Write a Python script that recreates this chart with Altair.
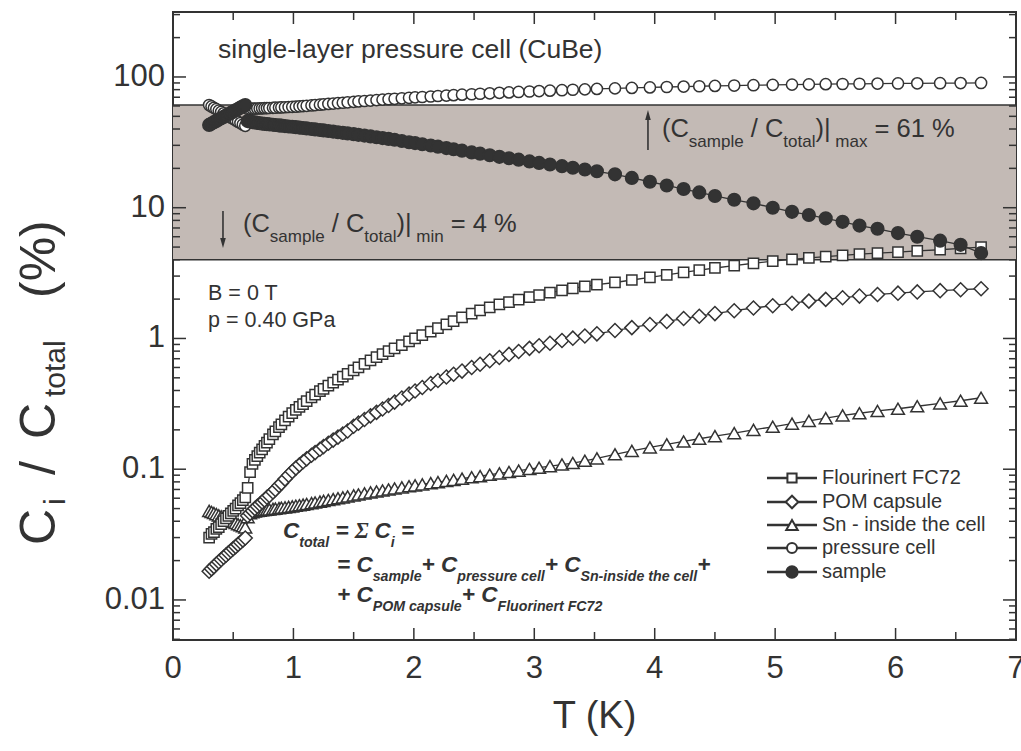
import altair as alt
import pandas as pd

INK = "#333333"
BAND_FILL = "#c3bab5"
FONT = "Liberation Sans"

# ---------------- data ----------------
T_LOW = [0.30, 0.32, 0.34, 0.36, 0.38, 0.40, 0.42, 0.44, 0.46, 0.48,
         0.50, 0.52, 0.54, 0.56, 0.58, 0.60]
T_MAIN = [0.62, 0.64, 0.66, 0.68, 0.70, 0.72, 0.74, 0.76, 0.78, 0.80,
          0.83, 0.85, 0.88, 0.90, 0.93, 0.96, 0.99, 1.02, 1.05, 1.08,
          1.11, 1.15, 1.18, 1.22, 1.25, 1.29, 1.33, 1.37, 1.41, 1.45,
          1.50, 1.54, 1.59, 1.64, 1.69, 1.74, 1.79, 1.84, 1.90, 1.96,
          2.01, 2.07, 2.14, 2.20, 2.27, 2.33, 2.40, 2.48, 2.55, 2.63,
          2.71, 2.79, 2.87, 2.96, 3.04, 3.13, 3.23, 3.32, 3.42, 3.52,
          3.67, 3.81, 3.96, 4.10, 4.24, 4.37, 4.50, 4.66, 4.82, 4.98,
          5.14, 5.28, 5.42, 5.56, 5.70, 5.85, 6.02, 6.18, 6.37, 6.54,
          6.71]

SAMPLE_LOW = [43.0, 44.0, 45.1, 46.1, 47.2, 48.3, 49.5, 50.6, 51.8, 53.1,
              54.3, 55.6, 56.9, 58.3, 59.6, 61.0]
SAMPLE_MAIN = [46.0, 45.6, 45.2, 44.9, 44.6, 44.3, 44.0, 43.8, 43.6, 43.4,
               43.1, 42.9, 42.6, 42.4, 42.1, 41.8, 41.6, 41.3, 41.0, 40.7,
               40.4, 40.0, 39.7, 39.3, 39.0, 38.6, 38.2, 37.8, 37.4, 37.0,
               36.5, 36.1, 35.6, 35.1, 34.6, 34.1, 33.6, 33.1, 32.4, 31.7,
               31.2, 30.6, 29.9, 29.3, 28.6, 28.0, 27.3, 26.5, 25.9, 25.2,
               24.5, 23.9, 23.3, 22.6, 22.0, 21.4, 20.8, 20.2, 19.6, 19.0,
               18.0, 16.9, 15.8, 14.8, 13.9, 13.1, 12.3, 11.5, 10.8, 10.0,
               9.3, 8.8, 8.3, 7.8, 7.3, 6.9, 6.4, 6.0, 5.6, 5.2,
               4.5]

CELL_LOW = [61.0, 59.5, 58.1, 56.7, 55.3, 54.0, 52.7, 51.4, 50.2, 49.0,
            47.8, 46.6, 45.5, 44.4, 43.3, 42.3]
CELL_MAIN = [57.0, 57.1, 57.2, 57.3, 57.4, 57.5, 57.6, 57.7, 57.8, 57.9,
             58.1, 58.2, 58.4, 58.5, 58.7, 58.9, 59.1, 59.3, 59.6, 59.9,
             60.2, 60.6, 60.9, 61.4, 61.7, 62.2, 62.6, 63.1, 63.5, 64.0,
             64.5, 65.0, 65.5, 66.0, 66.5, 67.1, 67.6, 68.1, 68.7, 69.3,
             69.8, 70.3, 70.9, 71.5, 72.1, 72.6, 73.2, 73.8, 74.4, 75.0,
             75.6, 76.2, 76.8, 77.4, 78.0, 78.6, 79.2, 79.8, 80.4, 81.0,
             81.8, 82.5, 83.2, 83.8, 84.4, 84.9, 85.4, 86.0, 86.5, 87.0,
             87.4, 87.8, 88.1, 88.4, 88.7, 89.0, 89.2, 89.4, 89.6, 89.8,
             90.0]

FC72_LOW = [0.030, 0.032, 0.033, 0.035, 0.036, 0.038, 0.040, 0.042, 0.044, 0.046,
            0.048, 0.050, 0.053, 0.055, 0.058, 0.061]
FC72_MAIN = [0.072, 0.095, 0.110, 0.118, 0.126, 0.134, 0.142, 0.151, 0.160, 0.170,
             0.185, 0.195, 0.210, 0.220, 0.236, 0.252, 0.268, 0.284, 0.300, 0.315,
             0.332, 0.355, 0.372, 0.395, 0.412, 0.436, 0.460, 0.485, 0.510, 0.535,
             0.570, 0.600, 0.640, 0.680, 0.720, 0.760, 0.800, 0.840, 0.890, 0.950,
             1.00, 1.06, 1.13, 1.20, 1.28, 1.36, 1.45, 1.55, 1.64, 1.73,
             1.82, 1.90, 1.98, 2.07, 2.15, 2.24, 2.33, 2.42, 2.50, 2.58,
             2.68, 2.80, 2.93, 3.06, 3.20, 3.33, 3.46, 3.61, 3.76, 3.90,
             4.03, 4.13, 4.23, 4.32, 4.41, 4.49, 4.58, 4.67, 4.77, 4.88,
             5.00]

POM_LOW = [0.0166, 0.0173, 0.0180, 0.0188, 0.0196, 0.0204, 0.0212, 0.0220, 0.0229, 0.0238,
           0.0247, 0.0256, 0.0266, 0.0276, 0.0287, 0.0298]
POM_MAIN = [0.044, 0.046, 0.048, 0.050, 0.052, 0.054, 0.056, 0.058, 0.061, 0.063,
            0.067, 0.070, 0.075, 0.078, 0.084, 0.090, 0.096, 0.102, 0.108, 0.114,
            0.120, 0.128, 0.134, 0.142, 0.149, 0.158, 0.167, 0.176, 0.186, 0.196,
            0.213, 0.225, 0.240, 0.256, 0.272, 0.289, 0.307, 0.326, 0.350, 0.375,
            0.396, 0.422, 0.452, 0.477, 0.507, 0.533, 0.563, 0.600, 0.635, 0.675,
            0.715, 0.755, 0.795, 0.840, 0.880, 0.920, 0.965, 1.005, 1.045, 1.085,
            1.15, 1.21, 1.28, 1.35, 1.42, 1.48, 1.55, 1.63, 1.71, 1.78,
            1.86, 1.93, 1.99, 2.05, 2.11, 2.17, 2.22, 2.27, 2.32, 2.36,
            2.40]

SN_LOW = [0.0480, 0.0471, 0.0462, 0.0453, 0.0444, 0.0436, 0.0427, 0.0419, 0.0411, 0.0403,
          0.0395, 0.0388, 0.0380, 0.0373, 0.0366, 0.0359]
SN_MAIN = [0.043, 0.046, 0.047, 0.0475, 0.048, 0.0482, 0.0485, 0.0488, 0.049, 0.0493,
           0.0497, 0.050, 0.0504, 0.0507, 0.0511, 0.0515, 0.052, 0.0525, 0.053, 0.0536,
           0.0542, 0.055, 0.0556, 0.0565, 0.0572, 0.0581, 0.059, 0.060, 0.0609, 0.0619,
           0.0631, 0.0641, 0.0653, 0.0665, 0.0676, 0.0688, 0.070, 0.0712, 0.0726, 0.074,
           0.0752, 0.0766, 0.0783, 0.0797, 0.0814, 0.0829, 0.0847, 0.0868, 0.0886, 0.0908,
           0.093, 0.0953, 0.0976, 0.1003, 0.1027, 0.1055, 0.1086, 0.1115, 0.1160, 0.1210,
           0.130, 0.138, 0.147, 0.155, 0.163, 0.171, 0.179, 0.189, 0.200, 0.211,
           0.223, 0.234, 0.246, 0.258, 0.268, 0.279, 0.290, 0.303, 0.319, 0.334,
           0.352]

SERIES_NAMES = ["Flourinert FC72", "POM capsule", "Sn - inside the cell",
                "pressure cell", "sample"]
SERIES_VALUES = [FC72_LOW + FC72_MAIN, POM_LOW + POM_MAIN, SN_LOW + SN_MAIN,
                 CELL_LOW + CELL_MAIN, SAMPLE_LOW + SAMPLE_MAIN]
T_ALL = T_LOW + T_MAIN

BAND_MIN, BAND_MAX = 4, 61
X_MAJOR = [0, 1, 2, 3, 4, 5, 6, 7]
X_LABELS = ["0", "1", "2", "3", "4", "5", "6", "7"]
X_MINOR = [0.5, 1.5, 2.5, 3.5, 4.5, 5.5, 6.5]
Y_MAJOR = [0.01, 0.1, 1, 10, 100]
Y_LABELS = ["0.01", "0.1", "1", "10", "100"]
Y_MINOR = [0.005, 0.006, 0.007, 0.008, 0.009,
           0.02, 0.03, 0.04, 0.05, 0.06, 0.07, 0.08, 0.09,
           0.2, 0.3, 0.4, 0.5, 0.6, 0.7, 0.8, 0.9,
           2, 3, 4, 5, 6, 7, 8, 9,
           20, 30, 40, 50, 60, 70, 80, 90, 200, 300]

# ---------------- styles ----------------
W, H = 843, 628
STYLE = {
    "Flourinert FC72": dict(shape="square", size=105, fill="white"),
    "POM capsule": dict(shape="diamond", size=196, fill="white"),
    "Sn - inside the cell": dict(shape="triangle-up", size=165, fill="white"),
    "pressure cell": dict(shape="circle", size=125, fill="white"),
    "sample": dict(shape="circle", size=160, fill=INK),
}

xs = alt.Scale(domain=[0, 7], nice=False, zero=False)
ys = alt.Scale(type="log", domain=[0.00494, 314], nice=False)
XF = lambda f: alt.X(f, scale=xs, axis=None)
YF = lambda f: alt.Y(f, scale=ys, axis=None)

rows = []
for name, vals in zip(SERIES_NAMES, SERIES_VALUES):
    for i, (t, v) in enumerate(zip(T_ALL, vals)):
        rows.append({"T": t, "v": v, "series": name, "i": i})
df = pd.DataFrame(rows)

one = pd.DataFrame({"a": [0]})

# --------------- text metrics (Arial / Liberation Sans) ---------------
REG = {" ": 278, "(": 333, ")": 333, "+": 584, "-": 333, ".": 278, "/": 278,
       "=": 584, "%": 889, "|": 260, "Σ": 600}
BOLD = {" ": 278, "(": 333, ")": 333, "+": 584, "-": 333, ".": 278, "/": 278,
        "=": 584, "%": 889, "|": 280, "Σ": 600}
for d in "0123456789":
    REG[d] = 556
    BOLD[d] = 556
for c, w in zip("ABCDEFGHIJKLMNOPQRSTUVWXYZ",
                [667, 667, 722, 722, 667, 611, 778, 722, 278, 500, 667, 556, 833,
                 722, 778, 667, 778, 722, 667, 611, 722, 667, 944, 667, 667, 611]):
    REG[c] = w
for c, w in zip("ABCDEFGHIJKLMNOPQRSTUVWXYZ",
                [722, 722, 722, 722, 667, 611, 778, 722, 278, 556, 722, 611, 833,
                 722, 778, 667, 778, 722, 667, 611, 722, 667, 944, 667, 667, 611]):
    BOLD[c] = w
for c, w in zip("abcdefghijklmnopqrstuvwxyz",
                [556, 556, 500, 556, 556, 278, 556, 556, 222, 222, 500, 222, 833,
                 556, 556, 556, 556, 333, 500, 278, 556, 500, 722, 500, 500, 500]):
    REG[c] = w
for c, w in zip("abcdefghijklmnopqrstuvwxyz",
                [556, 611, 556, 611, 556, 333, 611, 611, 278, 278, 556, 278, 889,
                 611, 611, 611, 611, 389, 556, 333, 611, 556, 778, 556, 556, 500]):
    BOLD[c] = w


def tw(s, size, bold=False):
    tbl = BOLD if bold else REG
    return sum(tbl.get(c, 556) for c in s) * size / 1000.0


def text_run(segs, x_enc, y_enc, data, bold=False, italic=False, angle=None):
    """segs: list of (text, size, dy[, font]) drawn one after another."""
    out = []
    cur = 0.0
    for seg in segs:
        text, size, dy = seg[0], seg[1], seg[2]
        font = seg[3] if len(seg) > 3 else FONT
        lead = len(text) - len(text.lstrip(" "))
        shown = text.strip(" ")
        if shown:
            kw = dict(text=shown, align="left", baseline="alphabetic",
                      fontSize=size, font=font, color=INK,
                      fontWeight="bold" if bold else "normal",
                      fontStyle="italic" if italic else "normal",
                      dx=cur + tw(" " * lead, size, bold), dy=dy)
            if angle is not None:
                kw["angle"] = angle
            out.append(alt.Chart(data).mark_text(**kw).encode(x=x_enc, y=y_enc))
        cur += tw(text, size, bold)
    return out


def text_at(segs, t, v, **kw):
    pos = pd.DataFrame({"t": [t], "v": [v]})
    return text_run(segs, XF("t:Q"), YF("v:Q"), pos, **kw)


layers = []

# shaded band
band = pd.DataFrame({"lo": [BAND_MIN], "hi": [BAND_MAX]})
layers.append(alt.Chart(band).mark_rect(color=BAND_FILL).encode(
    x=alt.value(0), x2=alt.value(W), y=YF("lo:Q"), y2="hi:Q"))
band_lines = pd.DataFrame({"val": [BAND_MIN, BAND_MAX]})
layers.append(alt.Chart(band_lines).mark_rule(color=INK, strokeWidth=1.6).encode(
    x=alt.value(0), x2=alt.value(W), y=YF("val:Q")))


# inward ticks on all four sides
def xticks(vals, length):
    d = pd.DataFrame({"val": vals})
    return [
        alt.Chart(d).mark_rule(color=INK, strokeWidth=1.5).encode(
            x=XF("val:Q"), y=alt.value(H), y2=alt.value(H - length)),
        alt.Chart(d).mark_rule(color=INK, strokeWidth=1.5).encode(
            x=XF("val:Q"), y=alt.value(0), y2=alt.value(length)),
    ]


def yticks(vals, length):
    d = pd.DataFrame({"val": vals})
    return [
        alt.Chart(d).mark_rule(color=INK, strokeWidth=1.5).encode(
            y=YF("val:Q"), x=alt.value(0), x2=alt.value(length)),
        alt.Chart(d).mark_rule(color=INK, strokeWidth=1.5).encode(
            y=YF("val:Q"), x=alt.value(W), x2=alt.value(W - length)),
    ]


layers += xticks(X_MAJOR, 12) + xticks(X_MINOR, 8)
layers += yticks(Y_MAJOR, 13) + yticks(Y_MINOR, 7)

# tick labels
xl = pd.DataFrame({"val": X_MAJOR, "lab": X_LABELS})
layers.append(alt.Chart(xl).mark_text(
    align="center", baseline="alphabetic", fontSize=31, font=FONT, color=INK).encode(
    x=XF("val:Q"), y=alt.value(H + 38), text="lab:N"))
yl = pd.DataFrame({"val": Y_MAJOR, "lab": Y_LABELS})
layers.append(alt.Chart(yl).mark_text(
    align="right", baseline="middle", fontSize=31, font=FONT, color=INK).encode(
    y=YF("val:Q"), x=alt.value(-8), text="lab:N"))
# x title
layers.append(alt.Chart(one).mark_text(
    text="T (K)", align="center", baseline="alphabetic", fontSize=38, font=FONT,
    color=INK).encode(x=alt.value(W / 2), y=alt.value(H + 88)))

# connecting lines
layers.append(alt.Chart(df).mark_line(color=INK, strokeWidth=1.3).encode(
    x=XF("T:Q"), y=YF("v:Q"), detail="series:N", order="i:Q"))

# markers
for name in ["Sn - inside the cell", "POM capsule", "Flourinert FC72",
             "pressure cell", "sample"]:
    st = STYLE[name]
    d = df[df.series == name]
    layers.append(alt.Chart(d).mark_point(
        shape=st["shape"], size=st["size"], filled=True, fill=st["fill"],
        stroke=INK, strokeWidth=1.5, opacity=1).encode(
        x=XF("T:Q"), y=YF("v:Q"), order="i:Q"))

# annotations
layers += text_at([("single-layer pressure cell (CuBe)", 26.5, 0)], 0.374, 140)

ratio_max = [("(C", 25.5, 0), ("sample", 17, 10), (" / C", 25.5, 0), ("total", 17, 10),
             (")|", 25.5, 0), (" max", 17, 10), (" = 61 %", 25.5, 0)]
ratio_min = [("(C", 25.5, 0), ("sample", 17, 10), (" / C", 25.5, 0), ("total", 17, 10),
             (")|", 25.5, 0), (" min", 17, 10), (" = 4 %", 25.5, 0)]
layers += text_at(ratio_max, 4.060, 34.8)
layers += text_at(ratio_min, 0.581, 6.52)

# arrows
arrows = pd.DataFrame({"t": [3.944, 0.415], "v1": [27.6, 9.44], "v2": [49.4, 5.7]})
layers.append(alt.Chart(arrows).mark_rule(color=INK, strokeWidth=1.6).encode(
    x=XF("t:Q"), y=YF("v1:Q"), y2="v2:Q"))
heads = pd.DataFrame({"t": [3.944], "v": [50.1]})
layers.append(alt.Chart(heads).mark_point(
    shape="M0,-1L0.45,0.6L-0.45,0.6Z", size=156, filled=True, color=INK, opacity=1).encode(
    x=XF("t:Q"), y=YF("v:Q")))
heads2 = pd.DataFrame({"t": [0.415], "v": [5.50]})
layers.append(alt.Chart(heads2).mark_point(
    shape="M0,1L0.45,-0.6L-0.45,-0.6Z", size=156, filled=True, color=INK, opacity=1).encode(
    x=XF("t:Q"), y=YF("v:Q")))

layers += text_at([("B = 0 T", 21.5, 0)], 0.291, 1.97)
layers += text_at([("p = 0.40 GPa", 21.5, 0)], 0.291, 1.224)

FS, SS, SD = 22.5, 14.2, 9
line1 = [("C", FS, 0), ("total", SS, SD), (" = ", FS, 0),
         ("Σ", FS, 0, "Liberation Serif"), (" C", FS, 0), ("i", SS, SD), (" =", FS, 0)]
line2 = [("= C", FS, 0), ("sample", SS, SD), ("+ C", FS, 0), ("pressure cell", SS, SD),
         ("+ C", FS, 0), ("Sn-inside the cell", SS, SD), ("+", FS, 0)]
line3 = [("+ C", FS, 0), ("POM capsule", SS, SD), ("+ C", FS, 0),
         ("Fluorinert FC72", SS, SD)]
layers += text_at(line1, 0.913, 0.0298, bold=True, italic=True)
layers += text_at(line2, 1.362, 0.0164, bold=True, italic=True)
layers += text_at(line3, 1.362, 0.00965, bold=True, italic=True)

# y-axis title (rotated, with subscripts), pieces placed along the text direction
YT = [("C", 50, 0, 0), ("i", 30, 40, 10), ("/", 50, 70, 0), ("C", 50, 106, 0),
      ("total", 30, 148, 10), ("(%)", 50, 247, 0)]
for text, size, dx, dy in YT:
    layers.append(alt.Chart(one).mark_text(
        text=text, align="left", baseline="alphabetic", fontSize=size, font=FONT,
        color=INK, angle=270, dx=dx, dy=dy).encode(x=alt.value(-118), y=alt.value(533)))

# legend
LEG_Y = [466, 490, 513, 536, 560]
for name, yk in zip(SERIES_NAMES, LEG_Y):
    st = STYLE[name]
    layers.append(alt.Chart(one).mark_rule(color=INK, strokeWidth=2.5).encode(
        x=alt.value(594), x2=alt.value(644), y=alt.value(yk)))
    layers.append(alt.Chart(one).mark_point(
        shape=st["shape"], size=st["size"] * 0.8, filled=True, fill=st["fill"],
        stroke=INK, strokeWidth=2, opacity=1).encode(x=alt.value(619), y=alt.value(yk)))
    layers.append(alt.Chart(one).mark_text(
        text=name, align="left", baseline="middle", fontSize=20, font=FONT,
        color=INK).encode(x=alt.value(649), y=alt.value(yk)))

chart = alt.layer(*layers).properties(
    width=W, height=H,
    padding={"left": 173, "top": 12, "right": 5, "bottom": 111},
    autosize=alt.AutoSizeParams(type="none"),
    background="white",
).configure_view(stroke=INK, strokeWidth=2)

chart.save("out.html", embed_options={"renderer": "svg", "actions": False})
